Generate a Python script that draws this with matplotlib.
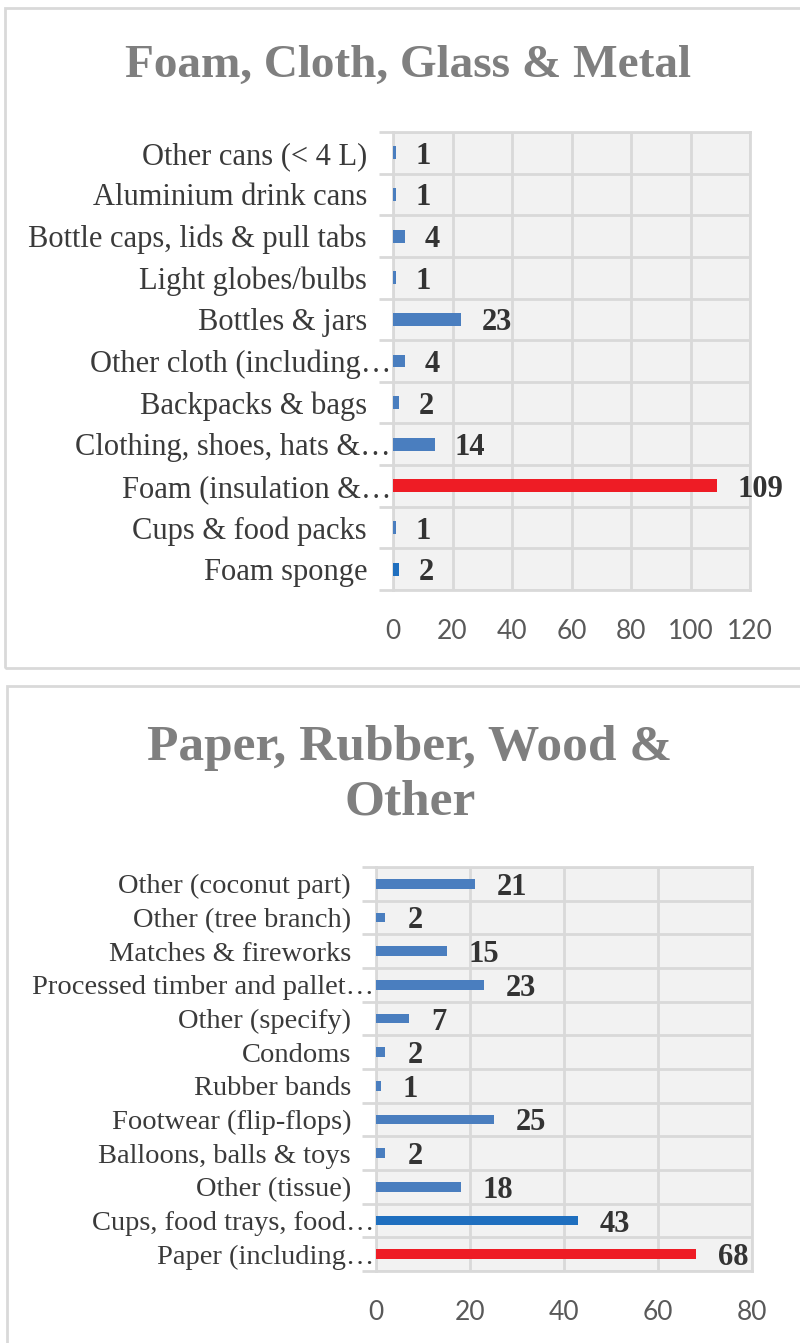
import matplotlib
matplotlib.use("Agg")
import matplotlib.pyplot as plt
import matplotlib.transforms as mtransforms
from matplotlib.patches import Rectangle
import numpy as np

# ---------------- data ----------------
top_title = "Foam, Cloth, Glass & Metal"
top_categories = [
    "Other cans (< 4 L)",
    "Aluminium drink cans",
    "Bottle caps, lids & pull tabs",
    "Light globes/bulbs",
    "Bottles & jars",
    "Other cloth (including\u2026",
    "Backpacks & bags",
    "Clothing, shoes, hats &\u2026",
    "Foam (insulation &\u2026",
    "Cups & food packs",
    "Foam sponge",
]
top_values = [1, 1, 4, 1, 23, 4, 2, 14, 109, 1, 2]
top_ticks = [0, 20, 40, 60, 80, 100, 120]

bottom_title = "Paper, Rubber, Wood &\nOther"
bottom_categories = [
    "Other (coconut part)",
    "Other (tree branch)",
    "Matches & fireworks",
    "Processed timber and pallet\u2026",
    "Other (specify)",
    "Condoms",
    "Rubber bands",
    "Footwear (flip-flops)",
    "Balloons, balls & toys",
    "Other (tissue)",
    "Cups, food trays, food\u2026",
    "Paper (including\u2026",
]
bottom_values = [21, 2, 15, 23, 7, 2, 1, 25, 2, 18, 43, 68]
bottom_ticks = [0, 20, 40, 60, 80]

# ---------------- style ----------------
BLUE = "#4a7ebf"
DARK_BLUE = "#1f6fbf"
RED = "#ee1c25"
top_colors = [BLUE, BLUE, BLUE, BLUE, BLUE, BLUE, BLUE, BLUE, RED, BLUE, DARK_BLUE]
bottom_colors = [BLUE] * 10 + [DARK_BLUE, RED]

W, H, DPI = 800, 1343, 100
GRID = "#d9d9d9"
SERIF = ["Liberation Serif", "DejaVu Serif"]
SANS = ["Lato", "DejaVu Sans"]

fig = plt.figure(figsize=(W / DPI, H / DPI), dpi=DPI)
fig.patch.set_facecolor("white")


def px_rect(l, t, r, b):
    return [l / W, 1 - b / H, (r - l) / W, (b - t) / H]


def panel_border(l, t, r, b):
    fig.patches.append(Rectangle((l / W, 1 - b / H), (r - l) / W, (b - t) / H,
                                 transform=fig.transFigure, fill=False,
                                 edgecolor=GRID, linewidth=2))


def draw_panel(box, cats, vals, colors, ticks, bar_h, off_px, cat_size, cat_pad_px):
    ax = fig.add_axes(px_rect(*box))
    n = len(cats)
    y = np.arange(n)
    ax.barh(y, vals, height=bar_h, color=colors, zorder=3)
    ax.set_ylim(n - 0.5, -0.5)
    ax.set_xlim(ticks[0], ticks[-1])
    ax.set_facecolor("#f2f2f2")
    ax.set_xticks(ticks)
    ax.set_xticklabels([str(t) for t in ticks], family=SANS, fontsize=19, color="#595959")
    ax.tick_params(axis="x", length=0, pad=21)
    ax.set_yticks(np.arange(-0.5, n, 1.0))
    ax.set_yticklabels([])
    ax.tick_params(axis="y", which="major", length=10, width=2, color=GRID)
    ax.grid(axis="x", color=GRID, linewidth=2, zorder=1)
    ax.grid(axis="y", which="major", color=GRID, linewidth=2, zorder=1)
    for s in ax.spines.values():
        s.set_color(GRID)
        s.set_linewidth(2)
    # category labels (truncated ones run right up to the axis, as in the source)
    base = ax.get_yaxis_transform()
    for i, c in enumerate(cats):
        pad = 2 if c.endswith("\u2026") else cat_pad_px
        tr = mtransforms.offset_copy(base, fig=fig, x=-pad / DPI, y=0, units="inches")
        ax.text(0, i, c, transform=tr, ha="right", va="center_baseline", fontsize=cat_size,
                family=SERIF, color="#3a3a3a", clip_on=False)
    for i, v in enumerate(vals):
        ax.annotate(str(v), (v, i), xytext=(off_px * 72 / DPI, 0), textcoords="offset points",
                    ha="left", va="center_baseline", fontsize=22, fontweight="bold",
                    family=SERIF, color="#333333", zorder=4)
    return ax


# top panel
panel_border(5, 8, 803, 668)
fig.text(408 / W, 1 - 66 / H, top_title, ha="center", va="center", fontsize=34,
         fontweight="bold", family=SERIF, color="#7f7f7f")
draw_panel((393, 132, 750, 590), top_categories, top_values, top_colors, top_ticks,
           0.31, 20, 22, 26)

# bottom panel
panel_border(7, 686, 803, 1345)
fig.text(410 / W, 1 - 775 / H, bottom_title, ha="center", va="center", fontsize=37,
         fontweight="bold", family=SERIF, color="#7f7f7f", linespacing=1.25)
draw_panel((376, 867, 752, 1271), bottom_categories, bottom_values, bottom_colors,
           bottom_ticks, 0.29, 22, 20.5, 25)

fig.savefig("out.png", dpi=DPI, facecolor="white")
